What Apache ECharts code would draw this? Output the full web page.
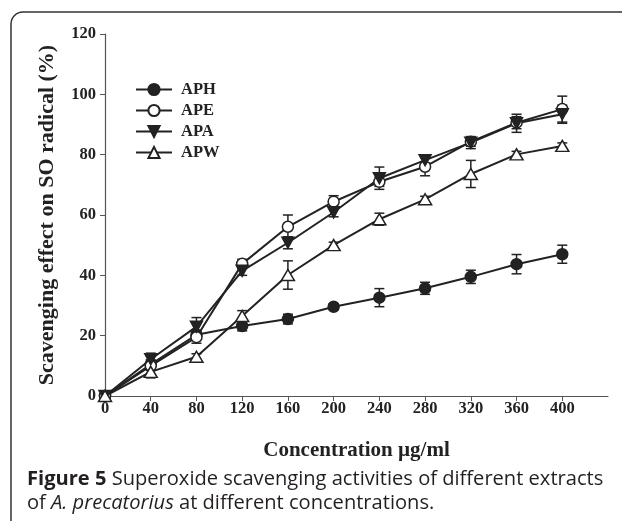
<!DOCTYPE html>
<html><head><meta charset="utf-8">
<script src="https://cdn.jsdelivr.net/npm/echarts@6/dist/echarts.min.js"></script>
<style>html,body{margin:0;padding:0;background:#fff}#c{width:622px;height:521px}</style>
</head><body><div id="c"></div>
<script>
const concentrations = [0, 40, 80, 120, 160, 200, 240, 280, 320, 360, 400];
const xTicks = [0, 40, 80, 120, 160, 200, 240, 280, 320, 360, 400];
const yTicks = [0, 20, 40, 60, 80, 100, 120];
const APH = [0, 10.5, 20.3, 23.2, 25.5, 29.6, 32.6, 35.7, 39.5, 43.7, 47.0];
const APH_err = [0, 1.5, 1.5, 1.6, 1.6, 1.0, 3.0, 2.0, 2.2, 3.2, 3.0];
const APE = [0, 10.0, 19.5, 43.8, 56.1, 64.4, 71.0, 76.0, 84.3, 90.6, 95.1];
const APE_err = [0, 1.5, 2.0, 1.5, 3.9, 2.0, 1.5, 3.0, 1.5, 2.0, 4.3];
const APA = [0, 12.2, 23.0, 41.5, 50.8, 60.9, 72.2, 78.2, 84.0, 90.4, 93.4];
const APA_err = [0, 2.0, 3.0, 1.5, 2.0, 1.5, 3.7, 1.0, 2.0, 3.0, 3.0];
const APW = [0, 8.0, 13.0, 26.5, 40.1, 50.0, 58.6, 65.2, 73.6, 80.1, 82.9];
const APW_err = [0, 2.0, 1.0, 1.8, 4.7, 1.0, 2.0, 1.0, 4.5, 1.0, 1.0];

const serif = '"Liberation Serif", "DejaVu Serif", serif';
const ink = '#222';

function pts(vals){ return concentrations.map((x,i)=>[x, vals[i]]); }
function errPts(vals, errs){ return concentrations.map((x,i)=>[x, vals[i], errs[i]]); }

function errSeries(vals, errs){
  return {
    type: 'custom', z: 1, silent: true,
    data: errPts(vals, errs),
    renderItem: function(params, api){
      const x = api.value(0), y = api.value(1), e = api.value(2);
      if (!e) return null;
      const top = api.coord([x, y + e]);
      const bot = api.coord([x, y - e]);
      const w = 5;
      const st = {stroke: ink, lineWidth: 1.5};
      return {type:'group', children:[
        {type:'line', shape:{x1:top[0], y1:top[1], x2:bot[0], y2:bot[1]}, style:st},
        {type:'line', shape:{x1:top[0]-w, y1:top[1], x2:top[0]+w, y2:top[1]}, style:st},
        {type:'line', shape:{x1:bot[0]-w, y1:bot[1], x2:bot[0]+w, y2:bot[1]}, style:st}
      ]};
    }
  };
}

function lineSeries(name, vals, symbol, filled, size){
  return {
    name: name, type: 'line', z: 3, data: pts(vals),
    symbol: symbol, symbolSize: size,
    showAllSymbol: true,
    lineStyle: {color: ink, width: 2},
    itemStyle: {color: filled ? ink : '#fff', borderColor: ink, borderWidth: 1.5},
    emphasis: {disabled: true},
    animation: false
  };
}

const chart = echarts.init(document.getElementById('c'));
chart.setOption({
  animation: false,
  backgroundColor: '#fff',
  grid: {left: 105, top: 34, right: 14, bottom: 125, containLabel: false},
  legend: {
    orient: 'vertical', left: 130, top: 75, itemWidth: 36, itemHeight: 14, itemGap: 2,
    textStyle: {fontFamily: serif, fontWeight: 'bold', fontSize: 16.5, lineHeight: 19, color: ink, padding: [0, 0, 0, 4]},
    data: ['APH', 'APE', 'APA', 'APW']
  },
  xAxis: {
    type: 'value', min: 0, max: 440,
    name: 'Concentration µg/ml', nameLocation: 'middle', nameGap: 44,
    nameTextStyle: {fontFamily: serif, fontWeight: 'bold', fontSize: 21, color: ink},
    axisLine: {show: true, lineStyle: {color: '#555', width: 1.2}},
    axisTick: {show: true, customValues: xTicks, length: 5, lineStyle: {color: '#555'}},
    axisLabel: {customValues: xTicks, fontFamily: serif, fontWeight: 'bold', fontSize: 16.5, color: ink, margin: 4},
    splitLine: {show: false}
  },
  yAxis: {
    type: 'value', min: 0, max: 120, interval: 20,
    name: 'Scavenging effect on SO radical (%)', nameLocation: 'middle', nameGap: 47,
    nameTextStyle: {fontFamily: serif, fontWeight: 'bold', fontSize: 22, color: ink},
    axisLine: {show: true, lineStyle: {color: '#555', width: 1.2}},
    axisTick: {show: true, length: 5, lineStyle: {color: '#555'}},
    axisLabel: {fontFamily: serif, fontWeight: 'bold', fontSize: 16.5, color: ink, margin: 9},
    splitLine: {show: false}
  },
  graphic: [
    {type: 'rect', shape: {x: 11, y: 12, width: 700, height: 600, r: 12},
     style: {fill: 'none', stroke: '#333', lineWidth: 1.5}, silent: true},
    {type: 'text', left: 27, top: 467, style: {
      text: '{b|Figure 5} Superoxide scavenging activities of different extracts\nof {i|A. precatorius} at different concentrations.',
      font: '20.1px "Open Sans", sans-serif', fill: '#231f20', lineHeight: 24,
      rich: {
        b: {fontFamily: '"Open Sans", sans-serif', fontWeight: 'bold', fontSize: 20.1, fill: '#231f20', lineHeight: 24},
        i: {fontFamily: '"Open Sans", sans-serif', fontStyle: 'italic', fontSize: 20.1, fill: '#231f20', lineHeight: 24}
      }
    }}
  ],
  series: [
    errSeries(APH, APH_err), errSeries(APE, APE_err), errSeries(APA, APA_err), errSeries(APW, APW_err),
    lineSeries('APH', APH, 'circle', true, 11),
    lineSeries('APE', APE, 'circle', false, 11),
    lineSeries('APA', APA, 'path://M0,0 L10,0 L5,9 Z', true, [12, 11]),
    lineSeries('APW', APW, 'triangle', false, [13, 11])
  ]
});
</script></body></html>
